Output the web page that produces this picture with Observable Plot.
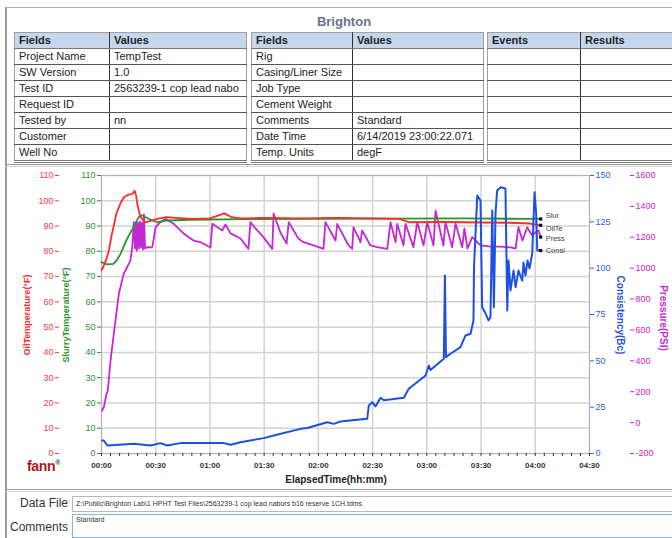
<!DOCTYPE html>
<html><head><meta charset="utf-8">
<script src="https://cdn.jsdelivr.net/npm/d3@7"></script>
<script src="https://cdn.jsdelivr.net/npm/@observablehq/plot@0.6"></script>
<style>
body{margin:0;background:#fff;}
#page{position:relative;width:672px;height:538px;overflow:hidden;font-family:"Liberation Sans",Arial,sans-serif;background:#fff;color:#222;}
.abs{position:absolute;}
.hline{position:absolute;left:6px;width:666px;height:1px;background:#9a9a9a;box-shadow:0 2px 0 #d8d8d8;}
table.t{position:absolute;top:32px;border-collapse:collapse;table-layout:fixed;font-size:11px;border:1px solid #a0a0a0;}
table.t td{height:15px;padding:0 0 0 4px;border-bottom:1px solid #555;white-space:nowrap;overflow:hidden;line-height:15px;}
table.t td:first-child{border-right:1px solid #333;}
table.t tr.h td{background:#c6d6ec;font-weight:bold;border-bottom:1px solid #777;}
table.t tr:last-child td{border-bottom:3px double #777;}
.rot{position:absolute;white-space:nowrap;font-weight:bold;}
</style></head>
<body>
<div id="page">
  <div class="abs" style="left:5px;top:7px;width:2px;height:531px;background:#9a9a9a;"></div>
  <div class="abs" style="left:6px;top:7px;width:666px;height:1px;background:#b0b0b0;"></div>
  <div id="title" class="abs" style="left:344px;top:21px;transform:translate(-50%,-50%);font-weight:bold;font-size:13px;color:#66758f;">Brighton</div>
  <div id="tables"></div>
  <div class="hline" style="top:164px;"></div>
  <div id="chart" class="abs" style="left:0;top:168px;"></div>
  <div id="labels"></div>
  <div class="hline" style="top:489px;"></div>
  <div class="abs" style="right:604px;top:503px;transform:translateY(-50%);font-size:12px;color:#333;">Data File</div>
  <div class="abs" style="left:72px;top:496px;width:598px;height:14px;border:1px solid #b8b8b8;font-size:7px;line-height:14px;padding-left:3px;color:#333;white-space:nowrap;overflow:hidden;">Z:\Public\Brighton Lab\1 HPHT Test Files\2563239-1 cop lead nabors b16 reserve 1CH.tdms</div>
  <div class="abs" style="right:604px;top:527px;transform:translateY(-50%);font-size:12px;color:#333;">Comments</div>
  <div class="abs" style="left:72px;top:514px;width:598px;height:22px;border:1px solid #86b6e8;font-size:7px;line-height:10px;padding-left:3px;color:#333;">Standard</div>
</div>
<script>
// ---------- header tables ----------
const t1Fields = ["Project Name","SW Version","Test ID","Request ID","Tested by","Customer","Well No"];
const t1Values = ["TempTest","1.0","2563239-1 cop lead nabo","","nn","",""];
const t2Fields = ["Rig","Casing/Liner Size","Job Type","Cement Weight","Comments","Date Time","Temp. Units"];
const t2Values = ["","","","","Standard","6/14/2019 23:00:22.071","degF"];
const t3Events = ["","","","","","",""];
const t3Results = ["","","","","","",""];

// ---------- chart data: [elapsed minutes, value] ----------
const oilTemp = [[0,72.5],[1.1,74],[2.5,76.5],[4,80],[5.5,86],[6.6,89.5],[8.3,95],[10.5,99],[12.5,101.5],[14.5,102.3],[17,102.7],[18.3,104],[19,102.5],[20,98],[21.6,93.5],[24.3,91.5],[28,92.2],[32,93],[36,93.5],[41,93.2],[50,92.8],[60,93],[64,94],[68,95],[72,93.5],[77,93],[90,93.2],[110,93],[130,93.2],[150,93],[165,92.8],[170,91.5],[190,91.6],[210,91.4],[226,91.3],[237,91],[243,90.3]];
const slurryTemp = [[0,75.7],[3.2,74.8],[6.6,75],[8.5,76.5],[10.5,79],[14.2,85],[17.7,89.5],[20.5,93.5],[22.5,94.2],[26,92.9],[30.8,91.5],[36.3,92.2],[49,92.5],[80,92.7],[120,92.8],[160,92.9],[200,93],[243,92.8]];
const pressurePsi = [[0.4,78],[1.3,100],[2.8,187],[3.5,208],[5,402],[6.8,575],[9.6,834],[12.3,964],[15.1,1028],[16,1050],[17,1136],[17.9,1298],[18.5,1127],[19.1,1296],[19.6,1114],[20.2,1296],[20.8,1127],[21.3,1302],[21.9,1134],[22.4,1296],[23,1121],[23.5,1348],[24.1,1127],[25.3,1136],[27.7,1134],[28.2,1140],[29.9,1265],[32.6,1298],[35.4,1320],[39.8,1289],[45.4,1225],[50.9,1179],[54.8,1168],[60.3,1134],[61.3,1287],[66.8,1244],[68.6,1283],[71.4,1225],[76.9,1192],[81.3,1125],[82.4,1298],[85.2,1257],[89.6,1201],[94.5,1125],[95.2,1354],[99,1231],[102.4,1160],[103.6,1298],[109,1190],[111.8,1168],[117.3,1147],[122.8,1125],[123.9,1298],[129.5,1179],[130.4,1287],[136.7,1147],[138.7,1125],[139.4,1265],[143.3,1168],[144.2,1244],[148.8,1147],[152.5,1136],[158.1,1125],[159.9,1298],[162.7,1168],[163.6,1287],[167.1,1147],[168.2,1287],[172.6,1136],[174.7,1298],[178.2,1147],[180.2,1298],[183.7,1147],[184.8,1373],[189.2,1147],[190.3,1298],[194,1136],[195.9,1289],[199.6,1136],[200.8,1257],[202.5,1127],[205.1,1201],[209.7,1147],[215.2,1140],[220.8,1140],[226.3,1134],[229.1,1127],[230.7,1265],[232.9,1179],[235.5,1265],[238.3,1212],[240.1,1231],[241.8,1244],[243,1201]];
const consistencyBc = [[0.4,7],[1.3,7],[3.2,4.3],[17.9,5.2],[27.1,4.3],[32.6,5.6],[36.4,4.3],[43.7,5.6],[67.7,5.6],[71.4,4.7],[76.9,6.1],[89.8,8.3],[95.3,9.7],[110.1,13.3],[113.8,13.8],[124.9,16.9],[128.5,16],[132.2,17.3],[147,18.7],[147.9,25.9],[149.8,27.7],[151.6,25.4],[154.4,30.1],[156.2,28.7],[167.3,30.1],[170,34.9],[179.3,42.1],[181.1,47.5],[182,45],[189.4,51.1],[190,96],[190.6,52],[193.1,53.8],[198.6,57.4],[201.4,63.7],[204.2,64.6],[205.8,71.8],[206.1,100.4],[207.9,139.2],[209.7,136.5],[210.6,78.9],[212.5,75.5],[214.1,71.8],[215.2,73.5],[216.2,131.1],[217.1,78.9],[218,129.5],[218.9,141.9],[220.8,143.7],[223.5,143],[224.5,77.2],[225.2,104.1],[226.3,88],[228,98.7],[229.1,89.7],[230.7,98.7],[232.8,93.3],[233.5,103],[234.6,96],[235.7,104.1],[236.8,99.8],[238.3,107.9],[239.6,141],[240.5,129.5],[241.1,109.5],[243,109.5]];

const seriesNames = ["Slur","OilTe","Press","Consi"];
const tempTicks = [0,10,20,30,40,50,60,70,80,90,100,110];
const consTicks = [0,25,50,75,100,125,150];
const presTicks = [-200,0,200,400,600,800,1000,1200,1400,1600];
const timeTicks = [0,30,60,90,120,150,180,210,240,270];
const timeLabels = ["00:00","00:30","01:00","01:30","02:00","02:30","03:00","03:30","04:00","04:30"];
const minorTicks = d3.range(0, 271, 5);

// ---------- tables ----------
function makeTable(left, w1, w2, h1, h2, c1, c2) {
  const tb = document.createElement("table");
  tb.className = "t";
  tb.style.left = left + "px";
  tb.style.width = (w1 + w2) + "px";
  const cg = document.createElement("colgroup");
  [w1, w2].forEach(w => { const c = document.createElement("col"); c.style.width = w + "px"; cg.appendChild(c); });
  tb.appendChild(cg);
  const hr = tb.insertRow(); hr.className = "h";
  hr.insertCell().textContent = h1; hr.insertCell().textContent = h2;
  c1.forEach((f, i) => { const r = tb.insertRow(); r.insertCell().textContent = f; r.insertCell().textContent = c2[i]; });
  document.getElementById("tables").appendChild(tb);
}
makeTable(14, 95, 137, "Fields", "Values", t1Fields, t1Values);
makeTable(251, 101, 131, "Fields", "Values", t2Fields, t2Values);
makeTable(487, 93, 100, "Events", "Results", t3Events, t3Results);

// ---------- chart ----------
const yP = p => (p + 200) * 110 / 1800;
const yC = c => c * 110 / 150;
const cRed = "#ff2a2a", cGreen = "#2a962a", cBlue = "#1d4fe3", cMag = "#c428d4";
const last = a => a[a.length - 1];
const ends = [
  {t: last(slurryTemp)[0], y: last(slurryTemp)[1], name: seriesNames[0], off: -3},
  {t: last(oilTemp)[0], y: last(oilTemp)[1], name: seriesNames[1], off: 3},
  {t: last(pressurePsi)[0], y: yP(last(pressurePsi)[1]), name: seriesNames[2], off: 1},
  {t: last(consistencyBc)[0], y: yC(last(consistencyBc)[1]), name: seriesNames[3], off: 0}
];

const chart = Plot.plot({
  width: 672, height: 320,
  marginLeft: 101, marginRight: 83, marginTop: 7, marginBottom: 35,
  x: {domain: [0, 270]},
  y: {domain: [0, 110]},
  style: {fontFamily: '"Liberation Sans", Arial, sans-serif', fontSize: "9px", background: "transparent", overflow: "visible"},
  marks: [
    Plot.gridY(tempTicks, {stroke: "#d2d2d2", strokeOpacity: 1, strokeWidth: 1.5}),
    Plot.gridX(timeTicks, {stroke: "#d2d2d2", strokeOpacity: 1, strokeWidth: 1.5}),
    Plot.frame({stroke: "#b4b4b4"}),
    Plot.axisY(tempTicks, {anchor: "left", color: "#2e8f2e", tickSize: 4, tickPadding: 2, label: null}),
    Plot.axisY(tempTicks, {anchor: "left", color: "#ff3a3a", tickSize: 4, tickPadding: 2, dx: -42, label: null}),
    Plot.axisY(consTicks.map(yC), {anchor: "right", color: "#2a5fe0", tickSize: 4, tickPadding: 2, label: null,
      tickFormat: v => String(Math.round(v * 150 / 110))}),
    Plot.axisY(presTicks.map(yP), {anchor: "right", color: "#cc22cc", tickSize: 4, tickPadding: 2, dx: 40, label: null,
      tickFormat: v => String(Math.round(v * 1800 / 110 - 200))}),
    Plot.axisX(minorTicks, {tickSize: 3, tickFormat: () => "", color: "#333", label: null}),
    Plot.axisX(timeTicks, {tickSize: 0, tickPadding: 9, fontSize: 8, fontWeight: "bold", color: "#333", label: null,
      tickFormat: d => timeLabels[timeTicks.indexOf(d)]}),
    Plot.line(pressurePsi, {x: d => d[0], y: d => yP(d[1]), stroke: cMag, strokeWidth: 1.8}),
    Plot.line(slurryTemp, {x: d => d[0], y: d => d[1], stroke: cGreen, strokeWidth: 1.8}),
    Plot.line(oilTemp, {x: d => d[0], y: d => d[1], stroke: cRed, strokeWidth: 1.8}),
    Plot.line(consistencyBc, {x: d => d[0], y: d => yC(d[1]), stroke: cBlue, strokeWidth: 2}),
    Plot.dot(ends, {x: "t", y: "y", symbol: "square", r: 1.8, fill: "#111", stroke: null}),
    ...ends.map(e => Plot.text([e], {x: "t", y: "y", text: "name", dx: 5, dy: e.off, textAnchor: "start", fill: "#444", fontSize: 7.5}))
  ]
});
document.getElementById("chart").appendChild(chart);

// ---------- axis titles & logo ----------
const labelDefs = [
  {text: "OilTemperature(°F)", x: 27, y: 315, rot: -90, color: "#ff2a2a", size: 9},
  {text: "SlurryTemperature(°F)", x: 66, y: 315, rot: -90, color: "#2a962a", size: 9},
  {text: "Consistency(Bc)", x: 620, y: 315, rot: 90, color: "#1d4fe3", size: 10},
  {text: "Pressure(PSI)", x: 663, y: 318, rot: 90, color: "#c428d4", size: 10},
  {text: "ElapsedTime(hh:mm)", x: 336, y: 479, rot: 0, color: "#222", size: 10}
];
const lab = document.getElementById("labels");
labelDefs.forEach(d => {
  const e = document.createElement("div");
  e.className = "rot";
  e.textContent = d.text;
  e.style.left = d.x + "px"; e.style.top = d.y + "px";
  e.style.color = d.color; e.style.fontSize = d.size + "px";
  e.style.transform = `translate(-50%,-50%) rotate(${d.rot}deg)`;
  lab.appendChild(e);
});
const logo = document.createElement("div");
logo.className = "abs";
logo.style.cssText = "left:27px;top:458px;font-weight:bold;font-size:14px;color:#a81818;letter-spacing:-0.3px;";
logo.innerHTML = "fann<sup style='font-size:7px;color:#333;'>®</sup>";
lab.appendChild(logo);
</script>
</body></html>
